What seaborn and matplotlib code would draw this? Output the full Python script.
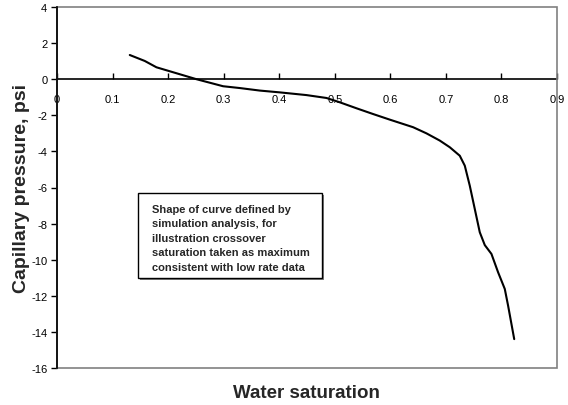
import matplotlib
matplotlib.use("Agg")
import matplotlib.pyplot as plt
import seaborn as sns
from matplotlib.patches import Rectangle

sw = [0.131, 0.158, 0.179, 0.215, 0.251, 0.299, 0.329, 0.365, 0.401, 0.449, 0.485,
      0.509, 0.539, 0.569, 0.599, 0.641, 0.665, 0.689, 0.707, 0.725, 0.734, 0.743,
      0.752, 0.761, 0.770, 0.782, 0.794, 0.806, 0.812, 0.823]
pc = [1.34, 1.01, 0.66, 0.33, 0.0, -0.39, -0.49, -0.63, -0.73, -0.88, -1.04,
      -1.28, -1.61, -1.93, -2.24, -2.66, -3.0, -3.4, -3.77, -4.24, -4.79, -5.9,
      -7.19, -8.48, -9.19, -9.68, -10.7, -11.62, -12.55, -14.4]
xticks = [0, 0.1, 0.2, 0.3, 0.4, 0.5, 0.6, 0.7, 0.8, 0.9]
yticks = [4, 2, 0, -2, -4, -6, -8, -10, -12, -14, -16]
note_lines = ["Shape of curve defined by",
              "simulation analysis, for",
              "illustration crossover",
              "saturation taken as maximum",
              "consistent with low rate data"]

sns.set_style("white")
plt.rcParams['font.family'] = ['Liberation Sans', 'DejaVu Sans']

W, H = 568, 406
fig = plt.figure(figsize=(W / 100, H / 100), dpi=100)
L, R, T, B = 57, 557, 8, 369
ax = fig.add_axes([L / W, 1 - B / H, (R - L) / W, (B - T) / H])

sns.lineplot(x=sw, y=pc, ax=ax, color='black', lw=1.5, sort=False)

ax.set_xlim(0, 0.9)
ax.set_ylim(-16, 4)
ax.set_xticks(xticks)
ax.set_xticklabels([f"{t:g}" for t in xticks])
ax.set_yticks(yticks)
ax.set_yticklabels([f"{t:g}" for t in yticks])

for s in ['top', 'right']:
    ax.spines[s].set_visible(False)
ax.spines['bottom'].set_position(('data', 0))
ax.spines['bottom'].set_color('black')
ax.spines['bottom'].set_linewidth(1.2)
ax.spines['left'].set_color('black')
ax.spines['left'].set_linewidth(1.2)
ax.spines['left'].set_zorder(5)

ax.add_patch(Rectangle((0, 0), 1, 1, transform=ax.transAxes, fill=False,
                       edgecolor='#808080', lw=1.2, zorder=4, clip_on=False))

ax.tick_params(axis='x', direction='in', length=4, width=1, pad=10.5,
               labelsize=8, colors='black', bottom=True)
ax.tick_params(axis='y', direction='out', length=4, width=1, pad=3,
               labelsize=8, colors='black', left=True)

fig.text(22 / W, 1 - 189 / H, "Capillary pressure, psi", rotation=90,
         ha='center', va='center', fontsize=14, fontweight='bold')
fig.text(306 / W, 1 - 398 / H, "Water saturation", ha='center', va='baseline',
         fontsize=13.5, fontweight='bold')

bx0, bx1, by0, by1 = 138, 322, 194, 279
ax.add_patch(Rectangle(((bx0 + 1.5 - L) / (R - L), (B - by1 - 1.5) / (B - T)),
                       (bx1 - bx0) / (R - L), (by1 - by0) / (B - T),
                       transform=ax.transAxes, facecolor='#808080', edgecolor='none', zorder=6))
ax.add_patch(Rectangle(((bx0 - L) / (R - L), (B - by1) / (B - T)),
                       (bx1 - bx0) / (R - L), (by1 - by0) / (B - T),
                       transform=ax.transAxes, facecolor='white', edgecolor='black',
                       lw=1, zorder=7))
for i, line in enumerate(note_lines):
    py = 210 + i * 14.5
    ax.text((152 - L) / (R - L), (B - py) / (B - T), line, transform=ax.transAxes,
            ha='left', va='center', fontsize=8, fontweight='bold', zorder=8)

fig.savefig("out.png", dpi=100)
